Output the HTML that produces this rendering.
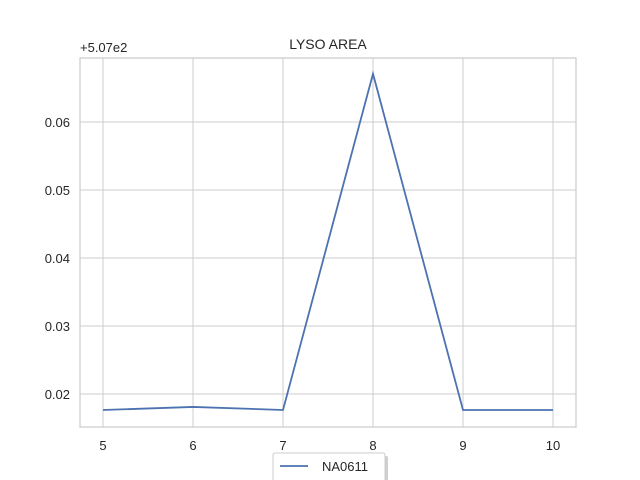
<!DOCTYPE html>
<html><head><meta charset="utf-8"><style>
body{margin:0;background:#fff;}
svg{display:block;font-family:"Liberation Sans","DejaVu Sans",sans-serif;}
</style></head><body>
<svg id="c" width="640" height="480">
<rect x="0" y="0" width="640" height="480" fill="#fff"/>
<text x="328" y="49" font-size="14" text-anchor="middle" fill="#262626">LYSO AREA</text>
<text x="80" y="52" font-size="13" fill="#262626">+5.07e2</text>
<g id="grid"></g>
<rect x="80" y="58" width="496" height="369" fill="none" stroke="#cccccc" stroke-width="1.25"/>
<g id="ticks"></g>
<polyline id="line" fill="none" stroke="#4c72b0" stroke-width="1.8"/>
<g>
<rect x="276" y="456" width="112" height="28" fill="#cfcfcf" rx="2"/>
<rect x="273" y="453" width="112" height="28" fill="#fff" stroke="#cccccc" rx="2"/>
<line x1="280" y1="466" x2="308" y2="466" stroke="#4c72b0" stroke-width="1.8"/>
<text x="322" y="471" font-size="13" fill="#262626">NA0611</text>
</g>
</svg>
<script>
const xValues=[5,6,7,8,9,10];
const yValues=[0.01765,0.0181,0.01765,0.0671,0.01765,0.01765];
const xTicks=[5,6,7,8,9,10];
const yTicks=[0.02,0.03,0.04,0.05,0.06];
const yTickLabels=["0.02","0.03","0.04","0.05","0.06"];
const NS="http://www.w3.org/2000/svg";
const sx=v=>103+(v-5)*90;
const sy=v=>394-(v-0.02)*6800;
const grid=document.getElementById('grid'),ticks=document.getElementById('ticks');
xTicks.forEach(t=>{
 const l=document.createElementNS(NS,'line');
 l.setAttribute('x1',sx(t));l.setAttribute('x2',sx(t));l.setAttribute('y1',58);l.setAttribute('y2',427);
 l.setAttribute('stroke','#cccccc');l.setAttribute('stroke-width','1');
 
 
 grid.appendChild(l);
 const tx=document.createElementNS(NS,'text');
 tx.setAttribute('x',sx(t));tx.setAttribute('y',450);tx.setAttribute('text-anchor','middle');
 tx.setAttribute('font-size','13');tx.setAttribute('fill','#262626');tx.textContent=t;
 
 
 ticks.appendChild(tx);
});
yTicks.forEach((t,i)=>{
 const l=document.createElementNS(NS,'line');
 l.setAttribute('x1',80);l.setAttribute('x2',576);l.setAttribute('y1',sy(t));l.setAttribute('y2',sy(t));
 l.setAttribute('stroke','#cccccc');l.setAttribute('stroke-width','1');
 
 
 grid.appendChild(l);
 const tx=document.createElementNS(NS,'text');
 tx.setAttribute('x',70);tx.setAttribute('y',sy(t)+5);tx.setAttribute('text-anchor','end');
 tx.setAttribute('font-size','13');tx.setAttribute('fill','#262626');tx.textContent=yTickLabels[i];
 
 
 ticks.appendChild(tx);
});
document.getElementById('line').setAttribute('points',xValues.map((x,i)=>sx(x)+','+sy(yValues[i])).join(' '));
</script>
</body></html>
